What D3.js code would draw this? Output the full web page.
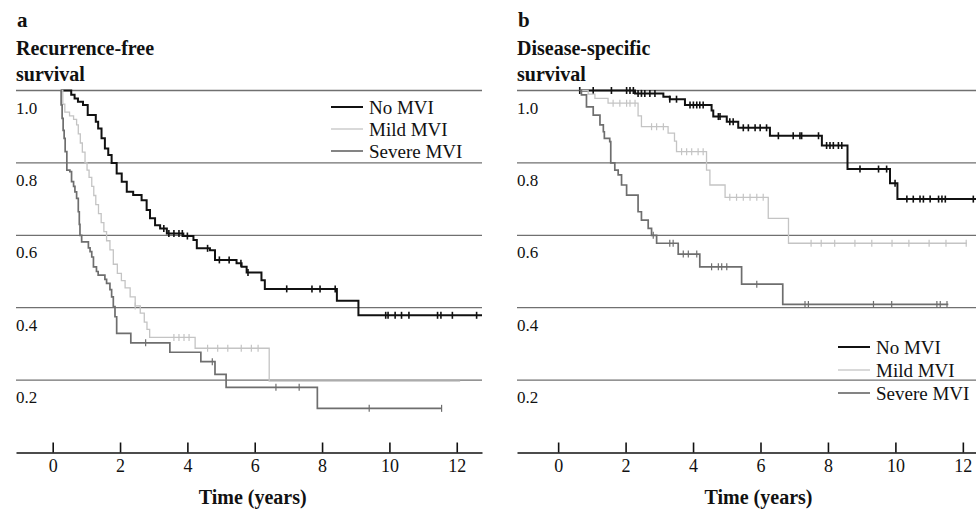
<!DOCTYPE html>
<html><head><meta charset="utf-8">
<script src="https://cdn.jsdelivr.net/npm/d3@7"></script>
<style>
html,body{margin:0;padding:0;background:#fff;}
svg{display:block;}
text{font-family:"Liberation Serif","Times New Roman",serif;fill:#111;}
</style></head>
<body>
<svg id="chart" width="976" height="510"></svg>
<script>
// ---------- data ----------
const xTicks = [0, 2, 4, 6, 8, 10, 12];
const yTicks = [0.2, 0.4, 0.6, 0.8, 1.0];
const yTickLabels = ["0.2", "0.4", "0.6", "0.8", "1.0"];
const seriesNames = ["No MVI", "Mild MVI", "Severe MVI"];
const panelLetters = ["a", "b"];
const panelTitles = [["Recurrence-free", "survival"], ["Disease-specific", "survival"]];
const xLabel = "Time (years)";

// Panel a: recurrence-free survival
const aNoT = [0.25, 0.55, 0.65, 0.75, 0.9, 1.04, 1.28, 1.35, 1.45, 1.55, 1.65, 1.75, 1.9, 2.05, 2.2, 2.39, 2.64, 2.79, 2.89, 3.04, 3.19, 3.39, 3.88, 4.18, 4.28, 4.67, 4.82, 5.46, 5.61, 5.76, 6.2, 6.3, 8.44, 9.08];
const aNoS = [1.0, 0.988, 0.978, 0.969, 0.96, 0.932, 0.914, 0.895, 0.868, 0.84, 0.822, 0.80, 0.771, 0.748, 0.72, 0.711, 0.697, 0.67, 0.647, 0.628, 0.619, 0.605, 0.598, 0.587, 0.564, 0.559, 0.532, 0.523, 0.513, 0.497, 0.476, 0.452, 0.419, 0.379];
const aNoEnd = 12.75;
const aNoCens = [3.3, 3.45, 3.6, 3.75, 3.85, 4.0, 4.6, 4.95, 5.24, 5.59, 5.8, 6.95, 7.7, 7.94, 8.39, 9.89, 9.96, 10.17, 10.36, 10.58, 11.43, 11.53, 11.87, 12.59];

const aMildT = [0.22, 0.3, 0.36, 0.5, 0.62, 0.71, 0.76, 0.82, 0.88, 0.96, 1.02, 1.08, 1.16, 1.22, 1.28, 1.36, 1.44, 1.52, 1.6, 1.7, 1.8, 1.92, 2.04, 2.15, 2.3, 2.45, 2.6, 2.72, 2.8, 2.88, 4.23, 6.43];
const aMildS = [1.0, 0.962, 0.94, 0.93, 0.92, 0.905, 0.88, 0.855, 0.83, 0.8, 0.78, 0.76, 0.735, 0.71, 0.685, 0.66, 0.635, 0.61, 0.585, 0.56, 0.52, 0.495, 0.475, 0.455, 0.43, 0.405, 0.385, 0.36, 0.34, 0.318, 0.288, 0.197];
const aMildEnd = 12.1;
const aMildCens = [2.45, 3.6, 3.75, 3.9, 4.05, 4.6, 4.9, 5.2, 5.6, 5.9, 6.1];

const aSevT = [0.22, 0.25, 0.28, 0.31, 0.34, 0.37, 0.42, 0.51, 0.56, 0.62, 0.66, 0.71, 0.76, 0.79, 0.81, 0.86, 1.06, 1.11, 1.16, 1.21, 1.3, 1.35, 1.55, 1.6, 1.7, 1.75, 1.8, 1.85, 1.9, 2.32, 3.48, 4.4, 4.82, 5.15, 7.86];
const aSevS = [1.0, 0.96, 0.923, 0.89, 0.868, 0.831, 0.78, 0.776, 0.748, 0.735, 0.72, 0.702, 0.665, 0.63, 0.60, 0.582, 0.565, 0.555, 0.54, 0.513, 0.5, 0.49, 0.478, 0.467, 0.45, 0.43, 0.403, 0.375, 0.329, 0.303, 0.277, 0.251, 0.216, 0.18, 0.122];
const aSevEnd = 11.55;
const aSevCens = [2.76, 4.74, 6.63, 7.32, 9.4, 11.55];

// Panel b: disease-specific survival
const bNoT = [0.64, 2.28, 3.12, 3.31, 3.76, 4.55, 4.6, 5.0, 5.34, 6.28, 7.82, 8.58, 9.84, 10.06];
const bNoS = [1.0, 0.992, 0.983, 0.976, 0.96, 0.945, 0.928, 0.914, 0.897, 0.875, 0.848, 0.783, 0.744, 0.70];
const bNoEnd = 12.39;
const bNoCens = [0.64, 1.04, 1.58, 2.03, 2.13, 2.23, 2.37, 2.47, 2.57, 2.72, 2.87, 3.31, 3.51, 3.91, 4.01, 4.11, 4.2, 4.3, 4.75, 4.8, 5.09, 5.19, 5.49, 5.64, 5.84, 5.99, 6.18, 6.53, 6.97, 7.17, 7.22, 7.72, 7.96, 8.06, 8.16, 8.31, 8.41, 8.95, 9.5, 9.74, 9.99, 10.34, 10.53, 10.73, 10.83, 11.03, 11.28, 11.38, 11.48, 12.31];

const bMildT = [0.64, 0.89, 1.09, 1.48, 2.37, 2.47, 3.26, 3.45, 3.51, 4.4, 4.5, 4.95, 6.23, 6.83];
const bMildS = [1.0, 0.99, 0.978, 0.965, 0.93, 0.90, 0.882, 0.86, 0.831, 0.78, 0.739, 0.705, 0.647, 0.578];
const bMildEnd = 12.12;
const bMildCens = [1.63, 1.83, 2.03, 2.13, 2.28, 2.77, 2.92, 3.12, 3.66, 3.81, 3.96, 4.15, 4.3, 5.09, 5.29, 5.49, 5.69, 5.89, 6.08, 7.5, 7.8, 8.2, 8.8, 9.3, 9.9, 10.4, 11.0, 11.5, 12.1];

const bSevT = [0.64, 0.69, 0.84, 1.04, 1.24, 1.34, 1.37, 1.53, 1.56, 1.68, 1.78, 1.88, 2.03, 2.37, 2.47, 2.67, 2.77, 2.92, 3.56, 4.2, 5.44, 6.66];
const bSevS = [1.0, 0.988, 0.955, 0.932, 0.905, 0.886, 0.868, 0.859, 0.80, 0.78, 0.767, 0.739, 0.711, 0.665, 0.642, 0.619, 0.60, 0.578, 0.548, 0.513, 0.465, 0.409];
const bSevEnd = 11.57;
const bSevCens = [2.82, 3.31, 3.41, 3.71, 3.86, 4.11, 4.55, 4.75, 4.85, 5.0, 5.89, 7.32, 7.42, 9.35, 9.89, 11.23, 11.33, 11.53];

// ---------- styles ----------
const seriesColor = ["#111111", "#c4c4c4", "#6e6e6e"];
const seriesWidth = [2, 1.3, 1.7];
const gridColor = "#707070";
const serif = '"Liberation Serif","Times New Roman",serif';

const svg = d3.select("#chart");

function build(T, S, end) {
  const pts = T.map((t, i) => [t, S[i]]);
  pts.push([end, S[S.length - 1]]);
  return pts;
}
function survAt(T, S, t) {
  let v = S[0];
  for (let i = 0; i < T.length; i++) { if (T[i] <= t) v = S[i]; }
  return v;
}

function drawPanel(cfg) {
  const g = svg.append("g");
  const x = d3.scaleLinear().domain(cfg.xDomain).range([cfg.left, cfg.right]);
  const y = d3.scaleLinear().domain([0, 1]).range([452.5, 90.5]);

  // title
  g.append("text").attr("x", cfg.left + 1).attr("y", 27)
    .attr("font-size", 21).attr("font-weight", "bold").text(cfg.letter);
  cfg.title.forEach((t, i) => {
    g.append("text").attr("x", cfg.left).attr("y", 55 + i * 26)
      .attr("font-size", 20).attr("font-weight", "bold").text(t);
  });

  // horizontal grid lines + labels
  yTicks.forEach((v, i) => {
    g.append("line").attr("x1", cfg.left).attr("x2", cfg.right)
      .attr("y1", y(v)).attr("y2", y(v))
      .attr("stroke", gridColor).attr("stroke-width", 1.3);
    g.append("text").attr("x", cfg.left).attr("y", y(v) + 23)
      .attr("font-size", 17).text(yTickLabels[i]);
  });

  // x axis
  const axis = d3.axisBottom(x).tickValues(xTicks).tickSizeInner(-10).tickSizeOuter(0).tickPadding(7)
    .tickFormat(d3.format("d"));
  const ax = g.append("g").attr("transform", `translate(0,${y(0)})`).call(axis);
  ax.select(".domain").attr("stroke", "#111").attr("stroke-width", 1.6);
  ax.selectAll(".tick line").attr("stroke", "#111").attr("stroke-width", 1.6);
  ax.selectAll(".tick text").attr("font-family", serif).attr("font-size", 18).attr("fill", "#111");

  g.append("text").attr("x", (x(0) + x(12)) / 2 - 2).attr("y", 504)
    .attr("text-anchor", "middle").attr("font-size", 20).attr("font-weight", "bold").text(xLabel);

  // curves
  const line = d3.line().x(d => x(d[0])).y(d => y(d[1])).curve(d3.curveStepAfter);
  cfg.series.forEach((s, k) => {
    const pts = build(s.T, s.S, s.end);
    g.append("path").datum(pts).attr("d", line).attr("fill", "none")
      .attr("stroke", seriesColor[k]).attr("stroke-width", seriesWidth[k]);
    g.selectAll(null).data(s.C).enter().append("line")
      .attr("x1", d => x(d)).attr("x2", d => x(d))
      .attr("y1", d => y(survAt(s.T, s.S, d)) - 3.5)
      .attr("y2", d => y(survAt(s.T, s.S, d)) + 3.5)
      .attr("stroke", seriesColor[k]).attr("stroke-width", k === 0 ? 1.6 : 1.2);
  });

  // legend
  seriesNames.forEach((n, k) => {
    const yy = cfg.legY + k * cfg.legStep;
    g.append("line").attr("x1", cfg.legX).attr("x2", cfg.legX + 32)
      .attr("y1", yy).attr("y2", yy)
      .attr("stroke", seriesColor[k]).attr("stroke-width", seriesWidth[k]);
    g.append("text").attr("x", cfg.legX + 38).attr("y", yy + 6.5)
      .attr("font-size", 19).text(n);
  });
}

drawPanel({
  letter: panelLetters[0], title: panelTitles[0],
  left: 16, right: 482, xDomain: [-1.09, 12.75],
  legX: 331, legY: 107, legStep: 22,
  series: [
    {T: aNoT, S: aNoS, end: aNoEnd, C: aNoCens},
    {T: aMildT, S: aMildS, end: aMildEnd, C: aMildCens},
    {T: aSevT, S: aSevS, end: aSevEnd, C: aSevCens}
  ]
});
drawPanel({
  letter: panelLetters[1], title: panelTitles[1],
  left: 517, right: 976, xDomain: [-1.22, 12.39],
  legX: 838, legY: 347, legStep: 23,
  series: [
    {T: bNoT, S: bNoS, end: bNoEnd, C: bNoCens},
    {T: bMildT, S: bMildS, end: bMildEnd, C: bMildCens},
    {T: bSevT, S: bSevS, end: bSevEnd, C: bSevCens}
  ]
});
</script>
</body></html>
